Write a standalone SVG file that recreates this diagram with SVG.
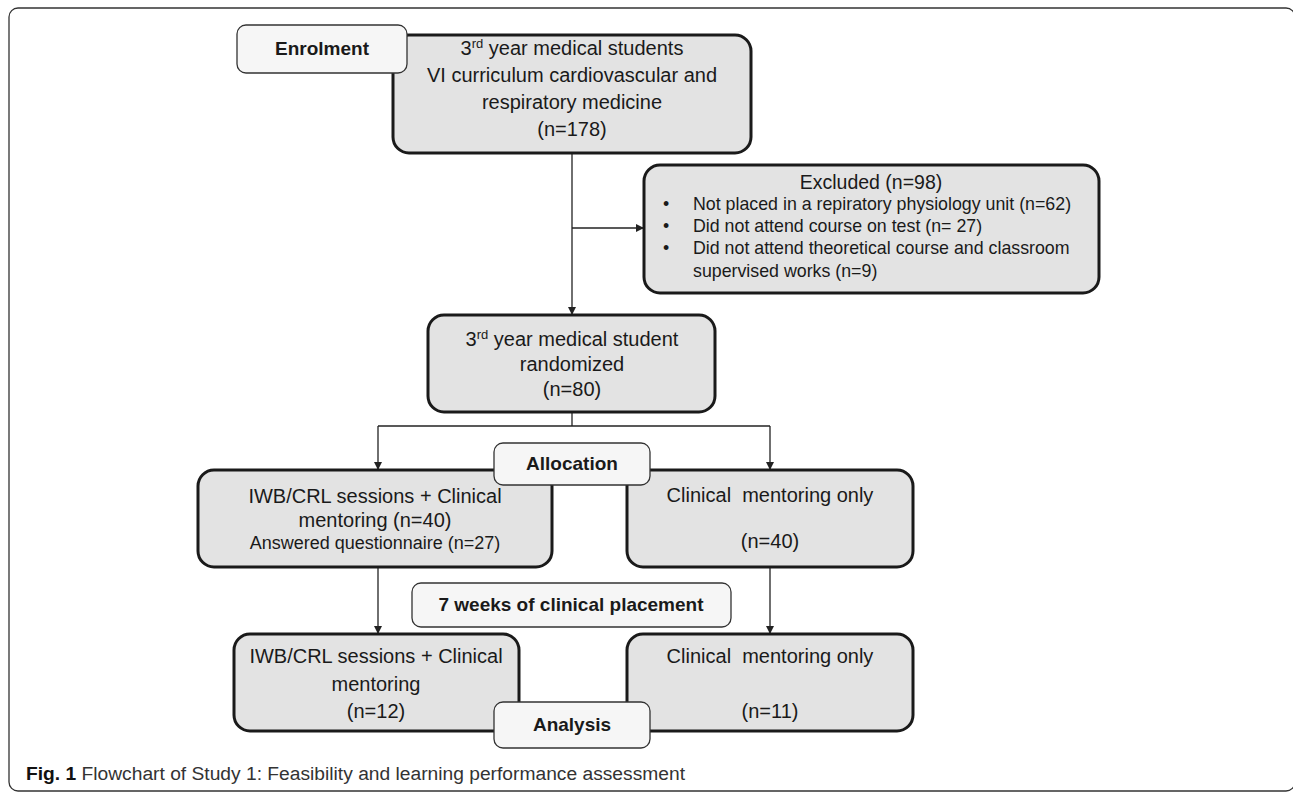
<svg xmlns="http://www.w3.org/2000/svg" width="1293" height="793" viewBox="0 0 1293 793">
<style>
.frame{fill:none;stroke:#333;stroke-width:1.3}
.main{fill:#e3e3e3;stroke:#1a1a1a;stroke-width:3}
.lab{fill:#f6f6f6;stroke:#333;stroke-width:1.3}
.t{font-family:"Liberation Sans",Arial,sans-serif;font-size:20px;fill:#1a1a1a;text-anchor:middle}
.s{font-size:18px}
.b{font-family:"Liberation Sans",Arial,sans-serif;font-size:19px;font-weight:bold;fill:#1a1a1a;text-anchor:middle}
.l{font-family:"Liberation Sans",Arial,sans-serif;font-size:17.8px;fill:#1a1a1a}
.c{fill:none;stroke:#222;stroke-width:1.3}
</style>
<defs>
<marker id="ah" viewBox="0 0 10 10" refX="10" refY="5" markerWidth="8" markerHeight="8" markerUnits="userSpaceOnUse" orient="auto">
<path d="M0,0 L10,5 L0,10 z" fill="#222"/>
</marker>
</defs>
<rect class="frame" x="9" y="8" width="1286" height="783" rx="9"/>

<g id="connectors">
<line class="c" x1="572" y1="153" x2="572" y2="315" marker-end="url(#ah)"/>
<line class="c" x1="572" y1="228" x2="644" y2="228" marker-end="url(#ah)"/>
<line class="c" x1="572" y1="412" x2="572" y2="426"/>
<line class="c" x1="378" y1="426" x2="770" y2="426"/>
<line class="c" x1="378" y1="426" x2="378" y2="470" marker-end="url(#ah)"/>
<line class="c" x1="770" y1="426" x2="770" y2="470" marker-end="url(#ah)"/>
<line class="c" x1="378" y1="567" x2="378" y2="634" marker-end="url(#ah)"/>
<line class="c" x1="770" y1="567" x2="770" y2="634" marker-end="url(#ah)"/>
</g>

<g id="n-enrolled">
<rect class="main" x="393" y="35" width="358" height="118" rx="16"/>
<text class="t" x="572" y="55">3<tspan font-size="13" dy="-7">rd</tspan><tspan dy="7"> year medical students</tspan></text>
<text class="t" x="572" y="82">VI curriculum cardiovascular and</text>
<text class="t" x="572" y="109">respiratory medicine</text>
<text class="t" x="572" y="136">(n=178)</text>
</g>
<g id="l-enrolment">
<rect class="lab" x="237" y="25" width="170" height="48" rx="9"/>
<text class="b" x="322" y="55">Enrolment</text>
</g>

<g id="n-excluded">
<rect class="main" x="644" y="165" width="455" height="128" rx="16"/>
<text class="t" x="871" y="189" style="font-size:19.5px">Excluded (n=98)</text>
<text class="l" x="663" y="210">•</text>
<text class="l" x="693" y="210">Not placed in a repiratory physiology unit (n=62)</text>
<text class="l" x="663" y="232">•</text>
<text class="l" x="693" y="232">Did not attend course on test (n= 27)</text>
<text class="l" x="663" y="254">•</text>
<text class="l" x="693" y="254">Did not attend theoretical course and classroom</text>
<text class="l" x="693" y="277">supervised works (n=9)</text>
</g>

<g id="n-randomized">
<rect class="main" x="428" y="315" width="287" height="97" rx="16"/>
<text class="t" x="572" y="346">3<tspan font-size="13" dy="-7">rd</tspan><tspan dy="7"> year medical student</tspan></text>
<text class="t" x="572" y="371">randomized</text>
<text class="t" x="572" y="396">(n=80)</text>
</g>

<g id="n-iwb1">
<rect class="main" x="198" y="470" width="354" height="97" rx="16"/>
<text class="t" x="375" y="503">IWB/CRL sessions + Clinical</text>
<text class="t" x="375" y="527">mentoring (n=40)</text>
<text class="t s" x="375" y="549">Answered questionnaire (n=27)</text>
</g>
<g id="n-clin1">
<rect class="main" x="627" y="470" width="286" height="97" rx="16"/>
<text class="t" x="770" y="502" xml:space="preserve">Clinical  mentoring only</text>
<text class="t" x="770" y="548">(n=40)</text>
</g>
<g id="l-allocation">
<rect class="lab" x="494" y="443" width="156" height="42" rx="9"/>
<text class="b" x="572" y="470">Allocation</text>
</g>

<g id="l-weeks">
<rect class="lab" x="412" y="583" width="319" height="44" rx="9"/>
<text class="b" x="571" y="611">7 weeks of clinical placement</text>
</g>

<g id="n-iwb2">
<rect class="main" x="234" y="634" width="285" height="97" rx="16"/>
<text class="t" x="376" y="663">IWB/CRL sessions + Clinical</text>
<text class="t" x="376" y="691">mentoring</text>
<text class="t" x="376" y="718">(n=12)</text>
</g>
<g id="n-clin2">
<rect class="main" x="627" y="634" width="286" height="97" rx="16"/>
<text class="t" x="770" y="663" xml:space="preserve">Clinical  mentoring only</text>
<text class="t" x="770" y="718">(n=11)</text>
</g>
<g id="l-analysis">
<rect class="lab" x="494" y="702" width="156" height="46" rx="9"/>
<text class="b" x="572" y="731">Analysis</text>
</g>

<g id="caption">
<text x="26" y="780" font-family="'Liberation Sans',Arial,sans-serif" font-size="18" fill="#333" textLength="659" lengthAdjust="spacingAndGlyphs"><tspan font-weight="bold" fill="#111">Fig. 1</tspan> Flowchart of Study 1: Feasibility and learning performance assessment</text>
</g>
</svg>
